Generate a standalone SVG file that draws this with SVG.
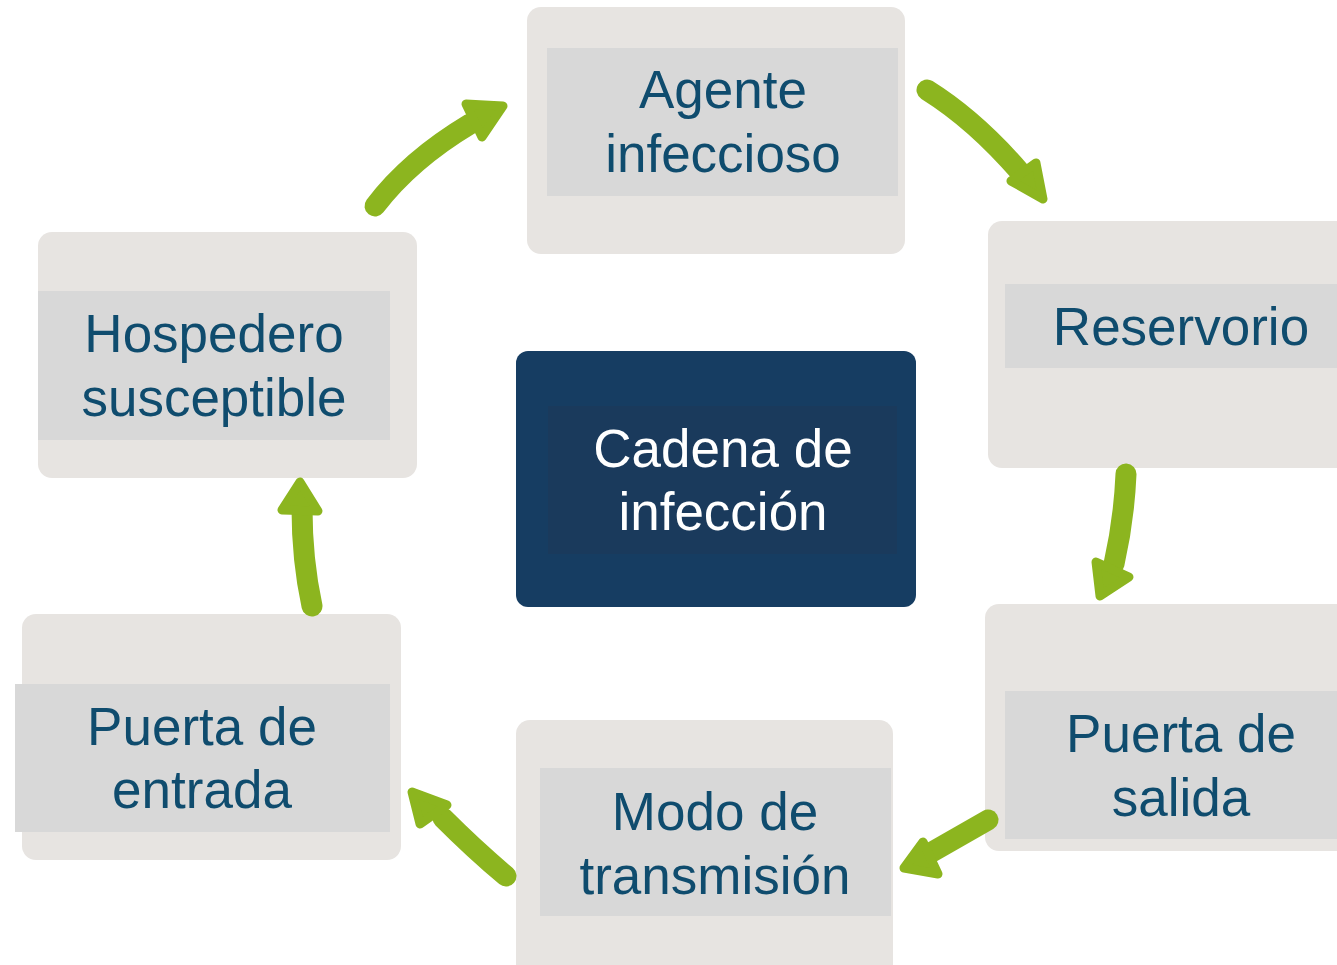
<svg xmlns="http://www.w3.org/2000/svg" width="1337" height="965" viewBox="0 0 1337 965">
<style>
.outer{fill:#e7e4e1}
.inner{fill:#d8d8d8}
.lbl{font-family:"Liberation Sans",Arial,sans-serif;font-size:53px;fill:#0f4c6e;text-anchor:middle}
.clbl{font-family:"Liberation Sans",Arial,sans-serif;font-size:53px;fill:#ffffff;text-anchor:middle}
.shaft{fill:none;stroke:#8cb51f;stroke-width:21;stroke-linecap:round}
.head{fill:#8cb51f;stroke:#8cb51f;stroke-width:9;stroke-linejoin:round}
</style>
<rect width="1337" height="965" fill="#ffffff"/>
<g id="agente">
<rect class="outer" x="527" y="7" width="378" height="247" rx="14"/>
<rect class="inner" x="547" y="48" width="351" height="148"/>
<text class="lbl" x="723" y="108">Agente</text>
<text class="lbl" x="723" y="172">infeccioso</text>
</g>
<g id="reservorio">
<rect class="outer" x="988" y="221" width="370" height="247" rx="14"/>
<rect class="inner" x="1005" y="284" width="332" height="84"/>
<text class="lbl" x="1181" y="345">Reservorio</text>
</g>
<g id="puerta-salida">
<rect class="outer" x="985" y="604" width="370" height="247" rx="14"/>
<rect class="inner" x="1005" y="691" width="332" height="148"/>
<text class="lbl" x="1181" y="752">Puerta de</text>
<text class="lbl" x="1181" y="816">salida</text>
</g>
<g id="modo-transmision">
<rect class="outer" x="516" y="720" width="377" height="260" rx="14"/>
<rect class="inner" x="540" y="768" width="351" height="148"/>
<text class="lbl" x="715" y="830">Modo de</text>
<text class="lbl" x="715" y="894">transmisión</text>
</g>
<g id="puerta-entrada">
<rect class="outer" x="22" y="614" width="379" height="246" rx="14"/>
<rect class="inner" x="15" y="684" width="375" height="148"/>
<text class="lbl" x="202" y="745">Puerta de</text>
<text class="lbl" x="202" y="808">entrada</text>
</g>
<g id="hospedero">
<rect class="outer" x="38" y="232" width="379" height="246" rx="14"/>
<rect class="inner" x="38" y="291" width="352" height="149"/>
<text class="lbl" x="214" y="352">Hospedero</text>
<text class="lbl" x="214" y="416">susceptible</text>
</g>
<g id="cadena">
<rect x="516" y="351" width="400" height="256" rx="12" fill="#163d62"/>
<rect x="548" y="406" width="349" height="148" fill="#1a3a5c"/>
<text class="clbl" x="723" y="467">Cadena de</text>
<text class="clbl" x="723" y="530">infección</text>
</g>
<g id="connectors">
<path class="shaft" d="M375,206 Q410,160 470,124"/>
<polygon class="head" points="466,104 503,106 482,137"/>
<path class="shaft" d="M927,90 Q975,120 1020,172"/>
<polygon class="head" points="1011,181 1036,163 1043,199"/>
<path class="shaft" d="M1126,474 Q1124,520 1114,564"/>
<polygon class="head" points="1096,562 1129,577 1100,596"/>
<path class="shaft" d="M988,820 Q960,836 932,852"/>
<polygon class="head" points="923,842 904,868 938,874"/>
<path class="shaft" d="M506,876 Q475,850 443,818"/>
<polygon class="head" points="412,792 447,805 420,824"/>
<path class="shaft" d="M312,606 Q302,560 302,508"/>
<polygon class="head" points="300,482 282,510 318,511"/>
</g>
</svg>
